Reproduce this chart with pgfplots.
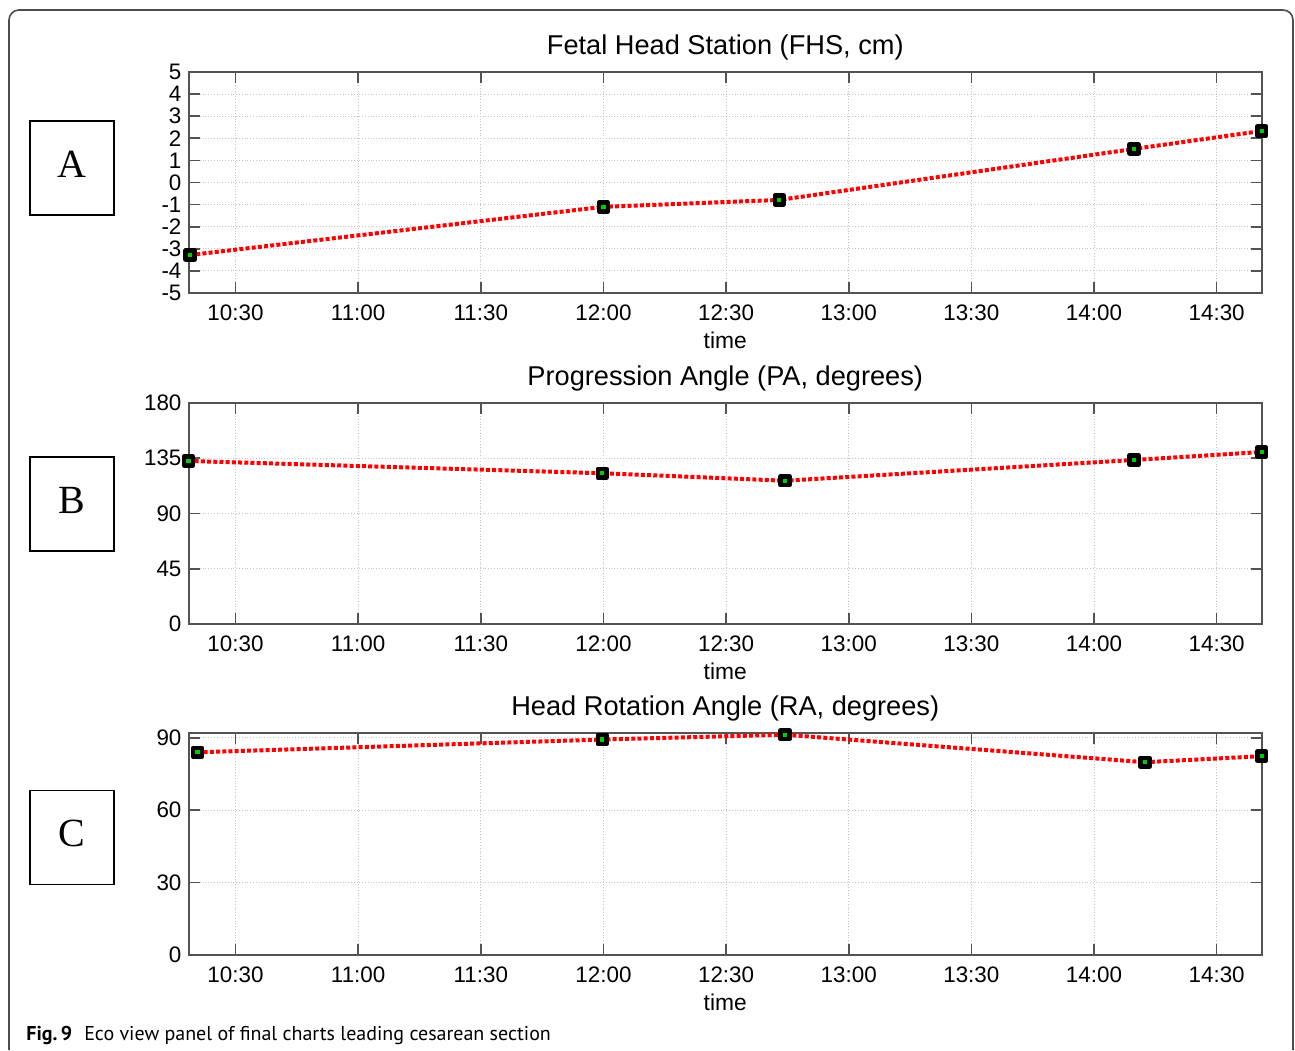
\documentclass[border=0pt]{standalone}
\usepackage{pgfplots}
\pgfplotsset{compat=1.18}
\usepackage{fontspec}
\setmainfont{Liberation Sans}
\newfontfamily\serifA{Liberation Serif}
\newfontfamily\capfont{PT Sans}

% times are minutes after midnight (630 = 10:30)
\pgfplotsset{
  panel/.style={
    scale only axis, width=536.75pt,
    xmin=618.5, xmax=881.1,
    xtick={630,660,...,870},
    xticklabels={10:30,11:00,11:30,12:00,12:30,13:00,13:30,14:00,14:30},
    tick align=inside, major tick length=5.5pt,
    grid=major, grid style={densely dotted, gray!45, line width=0.5pt},
    axis line style={gray!65!black, line width=1pt},
    every tick/.style={gray!65!black, line width=0.8pt},
    tick label style={font=\fontsize{11.2}{13}\selectfont, text=black},
    xticklabel style={yshift=-2.5pt},
    xlabel={time}, xlabel style={font=\fontsize{11.4}{13}\selectfont, yshift=1.5pt},
    title style={font=\fontsize{13.6}{16}\selectfont, yshift=-3.5pt},
    /pgf/number format/assume math mode=true,
  },
  trace/.style={red, line width=2pt, dash pattern=on 2pt off 1.1pt,
    mark=square*, mark size=2.2pt,
    mark options={solid, fill=green!80!black, draw=black, line width=2.3pt, line join=round}},
}

\begin{document}
\begin{tikzpicture}
\useasboundingbox (0pt,0pt) rectangle (647.5pt,-525pt);
\draw[gray!60!black, line width=0.8pt, rounded corners=5pt]
  (4.5pt,-525pt) -- (4.5pt,-5pt) -- (646.5pt,-5pt) -- (646.5pt,-525pt);

\begin{axis}[panel, at={(94.25pt,-146.5pt)}, anchor=south west, height=110.5pt,
  ymin=-5, ymax=5, ytick={-5,-4,...,5},
  title={Fetal Head Station (FHS, cm)}]
\addplot[trace] coordinates {
  (618.9,-3.28) (720,-1.10) (763,-0.79) (849.8,1.52) (881,2.33)
};
\end{axis}

\begin{axis}[panel, at={(94.25pt,-312pt)}, anchor=south west, height=110.5pt,
  ymin=0, ymax=180, ytick={0,45,90,135,180},
  title={Progression Angle (PA, degrees)}]
\addplot[trace] coordinates {
  (618.5,132.8) (719.7,122.8) (764.4,116.7) (849.8,133.6) (881,140.1)
};
\end{axis}

\begin{axis}[panel, at={(94.25pt,-477.5pt)}, anchor=south west, height=111pt,
  ymin=0, ymax=92, ytick={0,30,60,90},
  title={Head Rotation Angle (RA, degrees)}]
\addplot[trace] coordinates {
  (620.7,84.0) (719.7,89.3) (764.4,91.3) (852.5,79.9) (881,82.4)
};
\end{axis}

\foreach \yc/\lab in {-84pt/A, -252pt/B, -418.75pt/C}{
  \draw[black, line width=0.9pt] ([xshift=-21pt,yshift=-23.5pt]36pt,\yc) rectangle ([xshift=21pt,yshift=23.5pt]36pt,\yc);
  \node[inner sep=0pt, font=\serifA\fontsize{20}{24}\selectfont] at ([yshift=2pt]36pt,\yc) {\lab};
}

\node[anchor=base west, inner sep=0pt, font=\capfont\fontsize{10}{12}\selectfont]
  at (13pt,-520pt) {\textbf{Fig.\,9}\hspace{0.6em}Eco view panel of final charts leading cesarean section};
\end{tikzpicture}
\end{document}
